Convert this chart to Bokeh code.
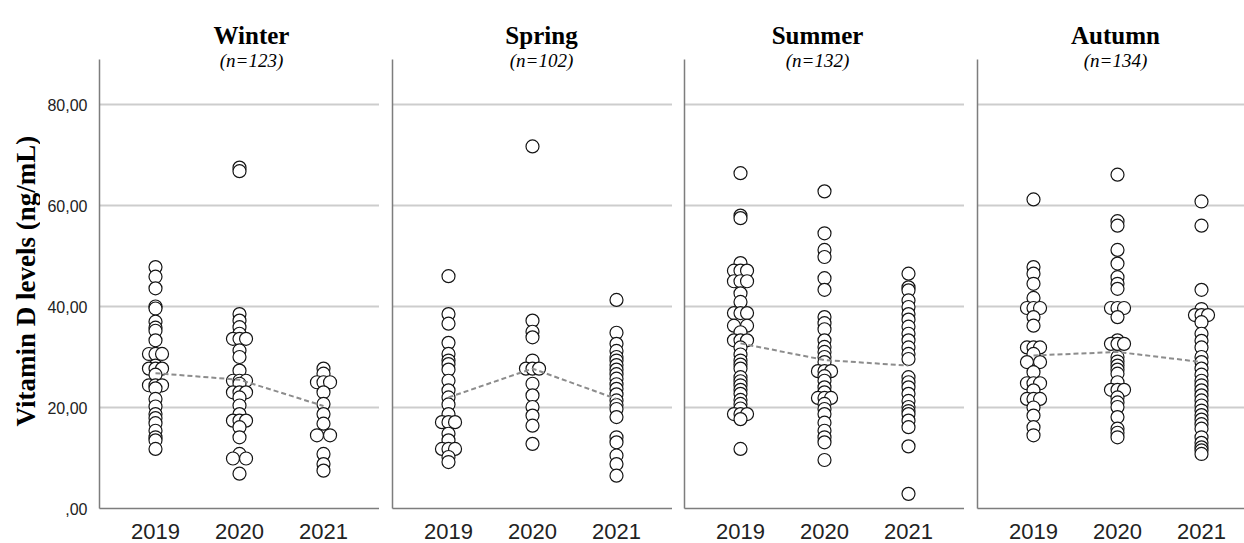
import math
from bokeh.plotting import figure
from bokeh.layouts import row
from bokeh.models import FixedTicker, Range1d, ColumnDataSource
from bokeh.core.properties import value
from bokeh.embed import file_html
from bokeh.resources import INLINE

# ---------------- data ----------------
years = ["2019", "2020", "2021"]
seasons = ["Winter", "Spring", "Summer", "Autumn"]
season_n = ["(n=123)", "(n=102)", "(n=132)", "(n=134)"]
y_ticks = [0, 20, 40, 60, 80]
y_tick_labels = [",00", "20,00", "40,00", "60,00", "80,00"]
y_title = "Vitamin D levels (ng/mL)"

winter_2019 = [47.8, 45.9, 43.6, 40.0, 39.6, 37.0, 35.8, 35.2, 33.3, 30.6, 30.6, 30.6,
               28.3, 27.7, 27.7, 27.7, 26.5, 24.4, 24.4, 24.4, 23.8, 21.7, 20.2, 18.7,
               17.9, 16.9, 15.4, 14.1, 13.5, 11.8]
winter_2020 = [67.5, 66.8, 38.5, 37.2, 35.9, 34.6, 33.6, 33.6, 33.6, 31.3, 30.0, 27.3,
               25.3, 25.3, 25.3, 24.7, 23.0, 23.0, 23.0, 22.0, 20.4, 18.7, 17.4, 17.4,
               17.4, 16.1, 14.1, 10.8, 9.9, 9.9, 6.9]
winter_2021 = [27.7, 26.7, 25.0, 25.0, 25.0, 23.0, 20.7, 18.7, 16.8, 14.5, 14.5,
               10.8, 8.8, 7.5]

spring_2019 = [46.0, 38.5, 36.6, 32.8, 30.6, 29.3, 28.6, 27.5, 25.3, 23.4, 22.0, 20.6,
               18.7, 17.1, 17.1, 17.1, 14.8, 13.5, 11.8, 11.8, 11.8, 10.2, 9.2]
spring_2020 = [71.7, 37.2, 35.0, 33.9, 29.3, 27.7, 27.7, 27.7, 24.7, 22.4, 20.1, 18.4,
               16.4, 12.8]
spring_2021 = [41.3, 34.8, 32.6, 31.2, 30.0, 29.3, 28.4, 27.5, 26.6, 25.7, 24.6, 23.7,
               22.6, 21.4, 20.5, 19.7, 18.1, 14.1, 13.1, 10.5, 8.8, 6.5]

summer_2019 = [66.4, 58.0, 57.5, 48.6, 47.1, 47.1, 47.1, 45.0, 45.0, 45.0, 42.6, 40.9,
               38.7, 38.7, 38.7, 36.2, 36.2, 34.9, 33.3, 33.3, 33.3, 31.9, 30.5, 29.3,
               28.5, 27.7, 26.0, 25.2, 24.4, 23.5, 22.7, 21.5, 20.7, 19.8, 18.7, 18.7,
               18.7, 17.7, 11.8]
summer_2020 = [62.8, 54.5, 51.2, 49.8, 45.6, 43.3, 37.9, 36.7, 35.5, 33.3, 32.0, 31.0,
               30.0, 29.0, 27.2, 27.2, 27.2, 26.2, 25.3, 24.0, 23.0, 21.9, 21.9, 21.9,
               20.7, 19.7, 18.7, 17.0, 15.4, 14.1, 13.1, 9.6]
summer_2021 = [46.5, 43.8, 43.2, 41.2, 39.9, 38.5, 37.4, 36.0, 34.6, 33.3, 31.9, 30.6,
               29.6, 26.0, 25.0, 24.0, 22.7, 21.3, 20.1, 19.3, 18.7, 17.4, 16.1, 12.3, 2.9]

autumn_2019 = [61.2, 47.8, 46.5, 44.5, 41.7, 39.7, 39.7, 39.7, 37.9, 36.2, 31.9, 31.9,
               31.9, 30.6, 29.0, 29.0, 27.0, 24.8, 24.8, 24.8, 23.4, 21.7, 21.7, 21.7,
               20.0, 18.4, 16.1, 14.5]
autumn_2020 = [66.1, 56.9, 56.0, 51.2, 48.5, 45.8, 44.5, 43.5, 39.7, 39.7, 39.7, 37.9,
               33.3, 32.6, 32.6, 32.6, 30.0, 29.1, 28.3, 27.5, 26.7, 25.0, 23.5, 23.5,
               23.5, 22.0, 21.0, 20.1, 18.1, 15.8, 15.0, 14.1]
autumn_2021 = [60.8, 56.0, 43.3, 39.5, 38.3, 38.3, 38.3, 36.9, 34.6, 33.2, 31.9, 30.0,
               29.0, 27.7, 26.5, 25.3, 24.4, 23.4, 22.4, 21.4, 20.4, 19.4, 18.5, 17.6,
               16.7, 15.8, 14.1, 13.0, 12.1, 11.5, 10.8]

winter_means = [26.8, 25.5, 20.3]
spring_means = [22.0, 27.7, 21.7]
summer_means = [32.7, 29.4, 28.3]
autumn_means = [30.3, 31.0, 29.0]

season_values = [
    [winter_2019, winter_2020, winter_2021],
    [spring_2019, spring_2020, spring_2021],
    [summer_2019, summer_2020, summer_2021],
    [autumn_2019, autumn_2020, autumn_2021],
]
season_means = [winter_means, spring_means, summer_means, autumn_means]

# ---------------- layout / style ----------------
PX_PER_CAT = 84.0          # pixels between two year categories
PX_PER_UNIT = 5.05         # pixels per ng/mL
X_START = 1 - 56.0 / PX_PER_CAT
FRAME_BOTTOM = 508         # y pixel of the value 0
AXIS_TOP_PX = 59           # y pixel where the axes start
TOTAL_H = 543
Y_END = FRAME_BOTTOM / PX_PER_UNIT
Y_AXIS_END = (FRAME_BOTTOM - AXIS_TOP_PX) / PX_PER_UNIT
TITLE_Y = (FRAME_BOTTOM - 34.5) / PX_PER_UNIT
SUB_Y = (FRAME_BOTTOM - 60.0) / PX_PER_UNIT

LABEL_W = 40               # strip holding the y-axis title
LABEL_CX, LABEL_CY = 25, 300

panel_borders = [99 - LABEL_W, 13, 12, 13]
panel_frames = [280, 280, 280, 267]
title_dx = [152, 149, 133, 138]

AXIS_COLOR = "#7d7d7d"
GRID_COLOR = "#cdcdcd"
SERIF = "Liberation Serif"
SANS = "Liberation Sans"


def dodge(values, center, step=0.078):
    counts = {}
    for v in values:
        counts[v] = counts.get(v, 0) + 1
    seen = {}
    xs = []
    for v in values:
        k = counts[v]
        i = seen.get(v, 0)
        seen[v] = i + 1
        if k == 1:
            offs = [0]
        elif k == 2:
            offs = [-1, 1]
        else:
            offs = list(range(-(k // 2), k - k // 2))
        xs.append(center + offs[i] * step)
    return xs


# strip with the rotated y-axis title
lab = figure(width=LABEL_W, height=TOTAL_H, output_backend="svg", toolbar_location=None,
             x_range=Range1d(0, LABEL_W), y_range=Range1d(TOTAL_H, 0),
             min_border=0)
lab.axis.visible = False
lab.grid.visible = False
lab.outline_line_color = None
lab.text(x=[LABEL_CX], y=[LABEL_CY], text=[y_title], angle=math.pi / 2,
         text_font=value(SERIF), text_font_style="bold", text_font_size="27px",
         text_align="center", text_baseline="middle", text_color="black")

figs = [lab]
for si, season in enumerate(seasons):
    bl, fw = panel_borders[si], panel_frames[si]
    p = figure(width=bl + fw, height=TOTAL_H,
               output_backend="svg", toolbar_location=None,
               x_range=Range1d(X_START, X_START + fw / PX_PER_CAT),
               y_range=Range1d(0, Y_END),
               min_border=0, min_border_left=bl, min_border_right=0,
               min_border_top=0, min_border_bottom=TOTAL_H - FRAME_BOTTOM)
    p.outline_line_color = None
    p.background_fill_color = "white"
    p.border_fill_color = "white"

    p.xgrid.visible = False
    p.ygrid.ticker = FixedTicker(ticks=y_ticks)
    p.ygrid.grid_line_color = GRID_COLOR
    p.ygrid.grid_line_width = 2

    xa = p.xaxis[0]
    xa.ticker = FixedTicker(ticks=[1, 2, 3])
    xa.major_label_overrides = {i + 1: y for i, y in enumerate(years)}
    xa.major_tick_line_color = None
    xa.minor_tick_line_color = None
    xa.axis_line_color = AXIS_COLOR
    xa.axis_line_width = 1.5
    xa.major_label_text_font = SANS
    xa.major_label_text_font_size = "22px"
    xa.major_label_text_color = "#222222"
    xa.major_label_standoff = 9

    ya = p.yaxis[0]
    ya.bounds = (0, Y_AXIS_END)
    ya.major_tick_line_color = None
    ya.minor_tick_line_color = None
    ya.axis_line_color = AXIS_COLOR
    ya.axis_line_width = 1.5
    if si == 0:
        ya.ticker = FixedTicker(ticks=y_ticks)
        ya.major_label_overrides = {t: l for t, l in zip(y_ticks, y_tick_labels)}
        ya.major_label_text_font = SANS
        ya.major_label_text_font_size = "16px"
        ya.major_label_text_color = "#222222"
        ya.major_label_standoff = 6
    else:
        ya.ticker = FixedTicker(ticks=[])
        ya.major_label_standoff = 0

    for yi in range(3):
        vals = season_values[si][yi]
        src = ColumnDataSource(dict(x=dodge(vals, yi + 1), y=vals))
        p.scatter("x", "y", source=src, marker="circle", size=13,
                  fill_color="white", line_color="#151515", line_width=1.2)

    p.line(x=[1, 2, 3], y=season_means[si], line_color="#8c8c8c",
           line_width=2, line_dash="5 3")

    tx = X_START + title_dx[si] / PX_PER_CAT
    p.text(x=[tx], y=[TITLE_Y], text=[season], text_font=value(SERIF),
           text_font_style="bold", text_font_size="25px", text_align="center",
           text_baseline="alphabetic", text_color="black")
    p.text(x=[tx], y=[SUB_Y], text=[season_n[si]], text_font=value(SERIF),
           text_font_style="italic", text_font_size="19px", text_align="center",
           text_baseline="alphabetic", text_color="black")
    figs.append(p)

layout = row(*figs)
open("out.html", "w").write(file_html(layout, INLINE))
